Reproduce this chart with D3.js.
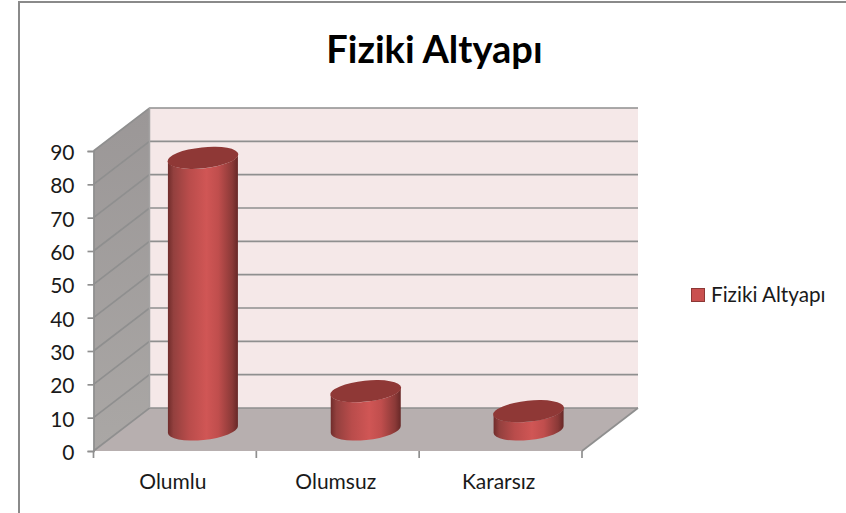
<!DOCTYPE html>
<html>
<head>
<meta charset="utf-8">
<script src="https://cdn.jsdelivr.net/npm/d3@7"></script>
<style>
  html, body { margin: 0; padding: 0; background: #fff; }
  svg { display: block; font-family: Lato, "Open Sans", sans-serif; }
</style>
</head>
<body>
<div id="chart"></div>
<script>
const categories = ["Olumlu", "Olumsuz", "Kararsız"];
const values = [81.5, 11.5, 5.5];
const yTicks = [0, 10, 20, 30, 40, 50, 60, 70, 80, 90];
const seriesName = "Fiziki Altyapı";
const chartTitle = "Fiziki Altyapı";

const WIDTH = 846;
const HEIGHT = 513;

// front plane of the 3d box, the back wall is the same plane pushed by DX, DY
const DX = 56;
const DY = -43;
const GRID_COLOR = "#8f8f8f";
const TEXT_COLOR = "#1a1a1a";

const svg = d3.select("#chart")
    .append("svg")
    .attr("width", WIDTH)
    .attr("height", HEIGHT);

const xScale = d3.scaleBand().domain(categories).range([93.5, 582]);
const yScale = d3.scaleLinear().domain([0, 90]).range([451, 151]);

const defs = svg.append("defs");

const barGradient = defs.append("linearGradient").attr("id", "barGrad");
[[0, "#702c2b"], [0.08, "#93403e"], [0.3, "#b94c4b"], [0.55, "#d05655"], [0.72, "#c04e4d"], [0.92, "#8a3937"], [1, "#672827"]]
    .forEach(s => barGradient.append("stop").attr("offset", s[0]).attr("stop-color", s[1]));

const wallGradient = defs.append("linearGradient")
    .attr("id", "wallGrad")
    .attr("x1", 0).attr("y1", 0).attr("x2", 0).attr("y2", 1);
[[0, "#9b9797"], [1, "#aaa7a5"]]
    .forEach(s => wallGradient.append("stop").attr("offset", s[0]).attr("stop-color", s[1]));

// frame of the pasted picture, only top and left are visible
svg.append("path")
    .attr("d", `M19,${HEIGHT}V2H${WIDTH}`)
    .attr("fill", "none")
    .attr("stroke", "#8a8a8a")
    .attr("stroke-width", 2);

svg.append("text")
    .attr("x", 434.5)
    .attr("y", 63)
    .attr("text-anchor", "middle")
    .attr("font-size", 38)
    .attr("font-weight", 700)
    .attr("fill", "#000")
    .text(chartTitle);

const x0 = xScale.range()[0], x1 = xScale.range()[1];
const yTop = yScale(90), yBottom = yScale(0);

// back wall
svg.append("rect")
    .attr("x", x0 + DX)
    .attr("y", yTop + DY)
    .attr("width", x1 - x0)
    .attr("height", yBottom - yTop)
    .attr("fill", "#f5e8e8");

// left wall
svg.append("path")
    .attr("d", `M${x0},${yTop}L${x0 + DX},${yTop + DY}V${yBottom + DY}L${x0},${yBottom}Z`)
    .attr("fill", "url(#wallGrad)");

// floor
svg.append("path")
    .attr("d", `M${x0},${yBottom}L${x0 + DX},${yBottom + DY}H${x1 + DX}L${x1},${yBottom}Z`)
    .attr("fill", "#b7afaf");

// gridlines run along the left wall and across the back
svg.append("g")
    .selectAll("path")
    .data(yTicks)
    .join("path")
    .attr("d", d => `M${x0},${yScale(d)}L${x0 + DX},${yScale(d) + DY}H${x1 + DX}`)
    .attr("fill", "none")
    .attr("stroke", GRID_COLOR)
    .attr("stroke-width", 1.7);

svg.append("path")
    .attr("d", `M${x0 + DX},${yTop + DY}V${yBottom + DY}`)
    .attr("stroke", "#a5a3a3")
    .attr("stroke-width", 1.5);

svg.append("path")
    .attr("d", `M${x1},${yBottom}L${x1 + DX},${yBottom + DY}`)
    .attr("stroke", GRID_COLOR)
    .attr("stroke-width", 1.7);

// cylinders, standing in the middle of the box depth
const RX = 35;
const RY = 10.5;
const TILT = 3.5; // how much the right side sits above the centre line

const cylinders = svg.append("g")
    .selectAll("g")
    .data(categories.map((c, i) => ({ category: c, value: values[i] })))
    .join("g")
    .attr("transform", d => `translate(${xScale(d.category) + xScale.bandwidth() / 2 + DX / 2},${DY / 2})`);

cylinders.append("path")
    .attr("d", d => {
        const top = yScale(d.value), bottom = yScale(0);
        return `M${-RX},${top + TILT}V${bottom + TILT}`
            + `A${RX},${RY} -6 0 0 ${RX},${bottom - TILT}`
            + `V${top - TILT}`
            + `A${RX},${RY} -6 0 1 ${-RX},${top + TILT}Z`;
    })
    .attr("fill", "url(#barGrad)");

cylinders.append("ellipse")
    .attr("rx", RX + 0.6)
    .attr("ry", RY)
    .attr("transform", d => `translate(0,${yScale(d.value)}) rotate(-6)`)
    .attr("fill", "#8f3836");

// axes
const yAxis = d3.axisLeft(yScale)
    .tickValues(yTicks)
    .tickSize(6)
    .tickPadding(13);

const yAxisG = svg.append("g")
    .attr("transform", `translate(${x0},0)`)
    .call(yAxis);

yAxisG.select(".domain").attr("stroke", GRID_COLOR).attr("stroke-width", 1.7);
yAxisG.selectAll(".tick line").attr("stroke", GRID_COLOR).attr("stroke-width", 1.7);
yAxisG.selectAll(".tick text")
    .attr("font-size", 21)
    .attr("font-family", "Lato")
    .attr("dy", "0.4em")
    .attr("fill", TEXT_COLOR);

const xAxis = d3.axisBottom(xScale)
    .tickSize(0)
    .tickPadding(23);

const xAxisG = svg.append("g")
    .attr("transform", `translate(0,${yBottom})`)
    .call(xAxis);

xAxisG.select(".domain").remove();
xAxisG.selectAll(".tick text")
    .attr("font-size", 21)
    .attr("font-family", "Lato")
    .attr("dx", -2)
    .attr("fill", TEXT_COLOR);

// x ticks sit on the band edges, not on the centres
xAxisG.selectAll(".edge")
    .data(d3.range(categories.length + 1))
    .join("line")
    .attr("class", "edge")
    .attr("x1", i => x0 + i * xScale.step())
    .attr("x2", i => x0 + i * xScale.step())
    .attr("y1", 0)
    .attr("y2", 7)
    .attr("stroke", GRID_COLOR)
    .attr("stroke-width", 1.7);

// legend
svg.append("rect")
    .attr("x", 691.5)
    .attr("y", 288.5)
    .attr("width", 13)
    .attr("height", 13)
    .attr("fill", "#c9504f")
    .attr("stroke", "#8c3836")
    .attr("stroke-width", 1);

svg.append("text")
    .attr("x", 711)
    .attr("y", 302)
    .attr("font-size", 20.7)
    .attr("fill", TEXT_COLOR)
    .text(seriesName);
</script>
</body>
</html>
